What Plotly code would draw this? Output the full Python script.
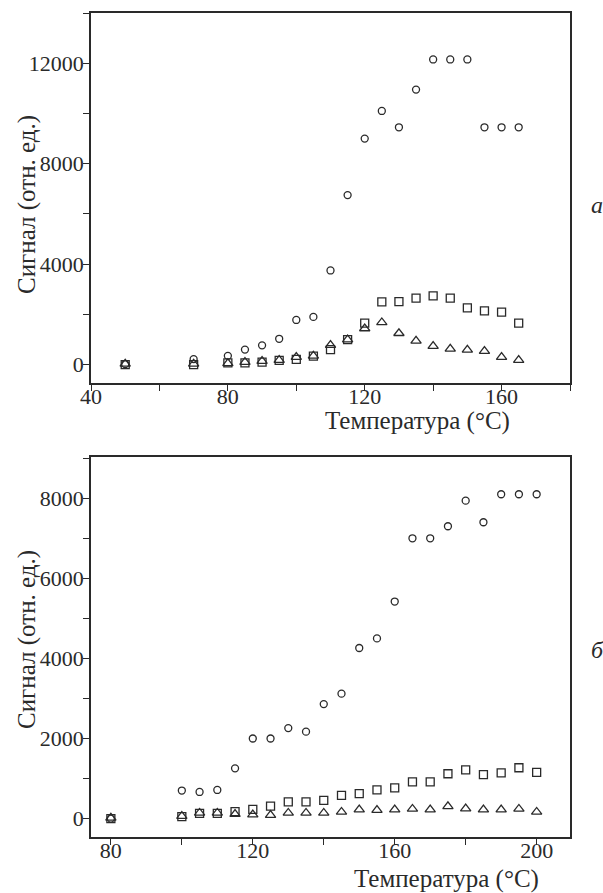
import plotly.graph_objs as go

# panel a
t_a = [50, 70, 80, 85, 90, 95, 100, 105, 110, 115, 120, 125, 130, 135, 140, 145, 150, 155, 160, 165]
circles_a = [20, 220, 350, 600, 770, 1030, 1780, 1900, 3750, 6750, 9000, 10100, 9450, 10950,
             12150, 12150, 12150, 9450, 9450, 9450]
squares_a = [0, 0, 70, 70, 100, 170, 210, 340, 600, 1000, 1650, 2500, 2510, 2650,
             2740, 2650, 2260, 2140, 2090, 1650]
triangles_a = [30, 30, 50, 100, 140, 180, 300, 350, 780, 1000, 1440, 1680, 1250, 950,
               740, 630, 590, 540, 300, 180]

# panel b
t_b = [80, 100, 105, 110, 115, 120, 125, 130, 135, 140, 145, 150, 155, 160, 165, 170,
       175, 180, 185, 190, 195, 200]
circles_b = [0, 700, 665, 715, 1255, 2000, 2000, 2260, 2170, 2860, 3120, 4260, 4500, 5420,
             7000, 7000, 7300, 7940, 7400, 8100, 8100, 8100]
squares_b = [0, 50, 130, 130, 175, 230, 310, 415, 415, 455, 580, 625, 715, 765,
             915, 915, 1120, 1215, 1100, 1140, 1270, 1155]
triangles_b = [20, 60, 140, 140, 110, 100, 85, 140, 140, 140, 165, 225, 210, 225,
               240, 225, 305, 250, 225, 225, 240, 165]

x_title = "Температура (°C)"
y_title = "Сигнал (отн. ед.)"

ink = '#2a2a2a'
tick_font = dict(family='Liberation Serif', size=22, color=ink)
title_font = dict(family='Liberation Serif', size=25, color=ink)
tag_font = dict(family='Liberation Serif', size=24, color=ink)

W = 603
H = 893


def px(x):
    return x / W


def py(y):
    return 1 - y / H


def series(x, y, symbol, size, xa, ya):
    return go.Scatter(x=x, y=y, mode='markers', xaxis=xa, yaxis=ya, showlegend=False,
                      marker=dict(symbol=symbol, size=size, color=ink,
                                  line=dict(color=ink, width=1.3)))


data = [
    series(t_a, circles_a, 'circle-open', 7, 'x', 'y'),
    series(t_a, squares_a, 'square-open', 8, 'x', 'y'),
    series(t_a, triangles_a, 'triangle-up-open', 9, 'x', 'y'),
    series(t_b, circles_b, 'circle-open', 7, 'x2', 'y2'),
    series(t_b, squares_b, 'square-open', 8, 'x2', 'y2'),
    series(t_b, triangles_b, 'triangle-up-open', 9, 'x2', 'y2'),
]


def axis(rng, domain, dtick, tick0, minor, anchor, standoff):
    return dict(range=rng, domain=domain, dtick=dtick, tick0=tick0, tickformat='d',
                showgrid=False, zeroline=False, showline=True, mirror=True,
                linecolor=ink, linewidth=1.5, ticks='outside', ticklen=6,
                tickwidth=1.3, tickcolor=ink, tickfont=tick_font, anchor=anchor,
                automargin=False, ticklabelstandoff=standoff,
                minor=dict(dtick=minor, tick0=tick0, ticks='outside', ticklen=6,
                           tickwidth=1.3, tickcolor=ink, showgrid=False))


def label(text, x, y, f, angle=0):
    return dict(text=text, x=px(x), y=py(y), xref='paper', yref='paper',
                xanchor='center', yanchor='middle', showarrow=False,
                font=f, textangle=angle)


xdom = [px(91), px(570)]
layout = go.Layout(
    width=W, height=H, autosize=False,
    margin=dict(l=0, r=0, t=0, b=0),
    plot_bgcolor='white', paper_bgcolor='white',
    font=tick_font,
    xaxis=axis([40, 180], xdom, 40, 40, 20, 'y', -13),
    yaxis=axis([-730, 14000], [py(383), py(13)], 4000, 0, 2000, 'x', -5),
    xaxis2=axis([74.4, 209.4], xdom, 40, 80, 20, 'y2', -13),
    yaxis2=axis([-460, 9030], [py(837), py(457)], 2000, 0, 1000, 'x2', -5),
    annotations=[
        label(x_title, 417, 421, title_font),
        label(x_title, 446, 879, title_font),
        label(y_title, 27, 205, title_font, -90),
        label(y_title, 27, 640, title_font, -90),
        label("<i>а</i>", 597, 205, tag_font),
        label("<i>б</i>", 597, 650, tag_font),
    ],
)

fig = go.Figure(data=data, layout=layout)
# drop the default body margin so the figure sits at the window's corner
fig.write_html("out.html", config={'displayModeBar': False},
               default_width=f"{W}px", default_height=f"{H}px",
               post_script="document.body.style.margin='0';"
                           "document.body.style.overflow='hidden';")
